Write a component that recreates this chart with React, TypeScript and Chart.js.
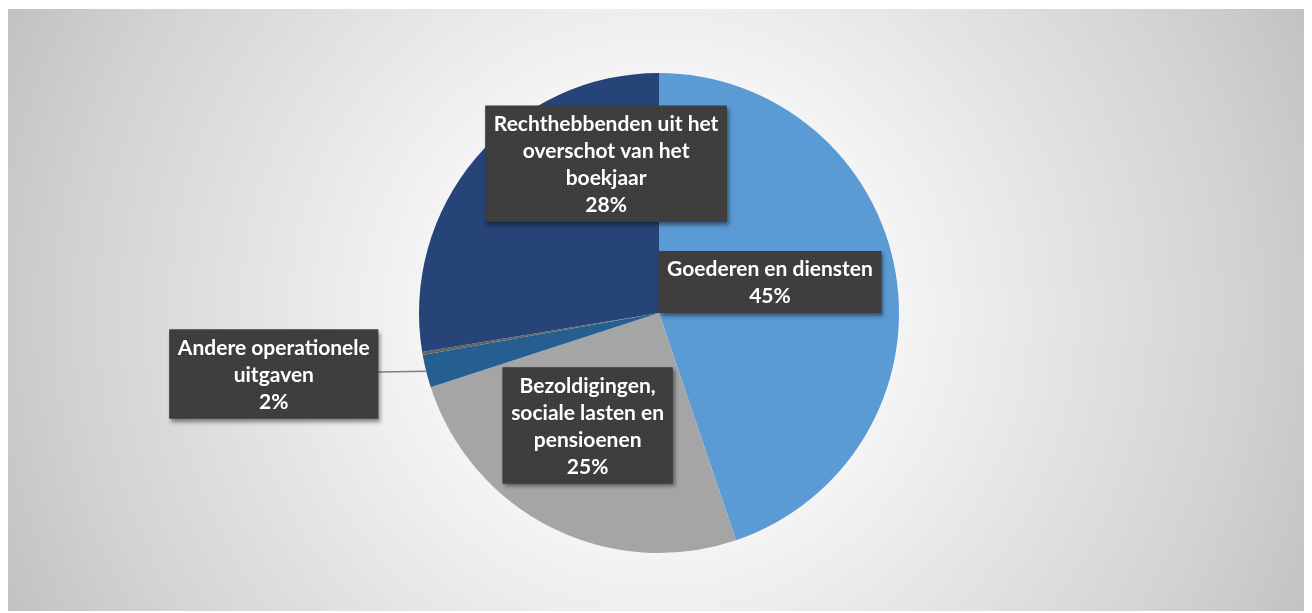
import React, { useEffect, useRef } from "react";
import { Chart, registerables } from "chart.js";

Chart.register(...registerables);

// Category names (wrapped as shown in the chart's data labels)
const categories: string[][] = [
  ["Goederen en diensten"],
  ["Bezoldigingen,", "sociale lasten en", "pensioenen"],
  ["Andere operationele", "uitgaven"],
  ["Financiële lasten"],
  ["Rechthebbenden uit het", "overschot van het", "boekjaar"],
];
// Share of total expenses (%)
const values: number[] = [44.8, 25.2, 2.2, 0.2, 27.6];
const showLabel: boolean[] = [true, true, true, false, true];
const colors: string[] = ["#5B9BD5", "#A5A5A5", "#255E91", "#636363", "#264478"];

// Label box placement: angle (deg clockwise from top) and distance as fraction of radius
const labelPlacement: ({ a: number; r: number } | null)[] = [
  { a: 74.4, r: 0.48 },
  { a: 212.4, r: 0.555 },
  { a: 261, r: 1.625 },
  null,
  { a: 340.5, r: 0.66 },
];

const boxLabelPlugin = {
  id: "boxLabels",
  afterDatasetsDraw(chart: any) {
    const ctx: CanvasRenderingContext2D = chart.ctx;
    const meta = chart.getDatasetMeta(0);
    const total = values.reduce((a, b) => a + b, 0);

    const tile = document.createElement("canvas");
    tile.width = 4;
    tile.height = 4;
    const tctx = tile.getContext("2d")!;
    tctx.fillStyle = "#3d3d3d";
    tctx.fillRect(0, 0, 4, 4);
    tctx.fillStyle = "#4a4a4a";
    tctx.fillRect(1, 1, 1, 1);
    const pattern = ctx.createPattern(tile, "repeat")!;

    ctx.save();
    ctx.font = "bold 21px Lato";
    meta.data.forEach((arc: any, i: number) => {
      const p = labelPlacement[i];
      if (!p || !showLabel[i]) return;
      const { x: cx, y: cy, outerRadius: R, startAngle, endAngle } = arc.getProps(
        ["x", "y", "outerRadius", "startAngle", "endAngle"],
        true
      );
      const ang = ((p.a - 90) * Math.PI) / 180;
      const bx = cx + p.r * R * Math.cos(ang);
      const by = cy + p.r * R * Math.sin(ang);
      const lines = [...categories[i], Math.round((values[i] / total) * 100) + "%"];
      const lineH = 27;
      const w = Math.max(...lines.map((l) => ctx.measureText(l).width)) + 17;
      const h = lines.length * lineH + 8;
      const left = bx - w / 2;
      const top = by - h / 2;

      if (p.r > 1) {
        const mid = (startAngle + endAngle) / 2;
        const ex = cx + R * Math.cos(mid);
        const ey = cy + R * Math.sin(mid);
        ctx.save();
        ctx.strokeStyle = "#7f7f7f";
        ctx.lineWidth = 1.5;
        ctx.beginPath();
        ctx.moveTo(left + w, by - 2);
        ctx.lineTo(ex, ey);
        ctx.stroke();
        ctx.restore();
      }

      ctx.save();
      ctx.shadowColor = "rgba(0,0,0,0.45)";
      ctx.shadowBlur = 4;
      ctx.shadowOffsetX = 2;
      ctx.shadowOffsetY = 3;
      ctx.fillStyle = "#3d3d3d";
      ctx.fillRect(left, top, w, h);
      ctx.restore();
      ctx.fillStyle = pattern;
      ctx.fillRect(left, top, w, h);

      ctx.fillStyle = "#ffffff";
      ctx.textAlign = "center";
      ctx.textBaseline = "middle";
      lines.forEach((l, k) => {
        ctx.fillText(l, bx, top + 4 + lineH * (k + 0.5) + 1);
      });
    });
    ctx.restore();
  },
};

export default function App() {
  const canvasRef = useRef<HTMLCanvasElement>(null);

  useEffect(() => {
    document.documentElement.style.overflow = "hidden";
    document.body.style.overflow = "hidden";
    if (!canvasRef.current) return;
    const chart = new Chart(canvasRef.current, {
      type: "pie",
      data: {
        labels: categories.map((c) => c.join(" ")),
        datasets: [
          {
            data: values,
            backgroundColor: colors,
            borderWidth: 0,
          },
        ],
      },
      options: {
        responsive: true,
        maintainAspectRatio: false,
        animation: false,
        layout: { padding: { top: 64, bottom: 58, left: 0, right: 2 } },
        plugins: {
          legend: { display: false },
          tooltip: { enabled: false },
        },
      },
      plugins: [boxLabelPlugin],
    });
    return () => chart.destroy();
  }, []);

  return (
    <div
      style={{
        position: "relative",
        width: 1304,
        height: 602,
        marginTop: 1,
        background:
          "radial-gradient(circle 730px at 651px 304px, #ffffff 0%, #f6f6f6 30%, #e4e4e4 55%, #d2d2d2 80%, #c0c0c0 100%)",
      }}
    >
      <canvas ref={canvasRef} />
    </div>
  );
}
